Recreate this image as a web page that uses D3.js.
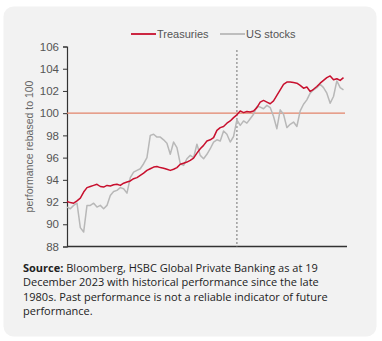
<!DOCTYPE html>
<html>
<head>
<meta charset="utf-8">
<script src="https://cdn.jsdelivr.net/npm/d3@7"></script>
<style>
  body { margin: 0; background: #fff; }
  svg { display: block; }
</style>
</head>
<body>
<svg id="chart" width="382" height="341"></svg>
<script>
// values, evenly spaced in time
var treasuries = [92.05, 91.95, 91.9, 92.1, 92.35, 92.9, 93.3, 93.4, 93.5, 93.6,
  93.4, 93.35, 93.5, 93.45, 93.55, 93.6, 93.5, 93.7, 93.8, 93.9,
  94.1, 94.2, 94.4, 94.6, 94.85, 95.0, 95.15, 95.2, 95.1, 95.05,
  94.95, 94.85, 94.95, 95.1, 95.4, 95.5, 95.6, 95.75, 95.95, 96.4,
  96.8, 97.1, 97.5, 97.6, 97.8, 98.45, 98.7, 98.8, 99.1, 99.3,
  99.6, 99.85, 100.2, 100.05, 100.15, 100.1, 100.2, 100.5, 101.0, 101.15,
  101.0, 100.85, 101.1, 101.6, 102.1, 102.6, 102.8, 102.8, 102.75, 102.7,
  102.5, 102.25, 102.35, 101.95, 102.15, 102.4, 102.7, 102.95, 103.2, 103.35,
  103.0, 103.1, 102.95, 103.2];

var usStocks = [91.55, 91.4, 91.7, 91.9, 89.7, 89.3, 91.7, 91.7, 91.9, 91.55,
  91.7, 91.4, 91.7, 92.6, 92.95, 93.05, 93.3, 93.2, 92.8, 94.2,
  94.7, 94.85, 95.0, 95.45, 96.0, 98.0, 98.1, 97.85, 97.85, 97.6,
  97.3, 96.3, 97.4, 96.9, 95.45, 95.3, 95.9, 96.2, 96.0, 97.2,
  96.2, 95.9, 96.3, 96.8, 97.4, 97.6, 97.5, 98.4, 98.1, 97.4,
  97.9, 99.4, 98.9, 99.3, 99.1, 99.5, 99.9, 100.6, 100.55, 100.4,
  100.7, 100.5, 99.7, 98.6, 100.3, 99.9, 98.7, 99.0, 99.2, 98.8,
  100.2, 100.8, 101.2, 101.8, 102.1, 102.3, 102.6, 102.3, 101.8, 100.9,
  101.5, 102.9, 102.3, 102.1];

var yTicks = [88, 90, 92, 94, 96, 98, 100, 102, 104, 106];
var seriesNames = ["Treasuries", "US stocks"];
var markerIndex = 51;   // dotted vertical line
var baseline = 100;

var sourceLines = [
  ["Source:", " Bloomberg, HSBC Global Private Banking as at 19"],
  ["", "December 2023 with historical performance since the late"],
  ["", "1980s. Past performance is not a reliable indicator of future"],
  ["", "performance."]
];

var svg = d3.select("#chart");

svg.append("rect")
  .attr("x", 3.5).attr("y", 6.5)
  .attr("width", 373).attr("height", 330)
  .attr("rx", 10)
  .attr("fill", "#f2f2f2");

var x = d3.scaleLinear().domain([0, treasuries.length - 1]).range([67, 343.5]);
var y = d3.scaleLinear().domain([88, 106]).range([246.5, 46.5]);

var yAxis = d3.axisLeft(y).tickValues(yTicks).tickSize(4).tickPadding(4);
var gy = svg.append("g").attr("transform", "translate(67,0)").call(yAxis);
gy.select(".domain").attr("stroke", "#333").attr("stroke-width", 1.2);
gy.selectAll(".tick line").attr("stroke", "#333");
gy.selectAll(".tick text")
  .attr("fill", "#555")
  .style("font-family", "Liberation Sans, Arial, sans-serif")
  .style("font-size", "11.5px");

svg.append("line")
  .attr("x1", 67).attr("x2", 347)
  .attr("y1", y(88)).attr("y2", y(88))
  .attr("stroke", "#333").attr("stroke-width", 1.5);

svg.append("text")
  .attr("transform", "translate(33," + y(97) + ") rotate(-90)")
  .attr("text-anchor", "middle")
  .attr("fill", "#666")
  .style("font-family", "Liberation Sans, Arial, sans-serif")
  .style("font-size", "10.5px")
  .text("performance rebased to 100");

svg.append("line")
  .attr("x1", 67).attr("x2", 345)
  .attr("y1", y(baseline)).attr("y2", y(baseline))
  .attr("stroke", "#e2836a").attr("stroke-width", 1.3);

svg.append("line")
  .attr("x1", x(markerIndex)).attr("x2", x(markerIndex))
  .attr("y1", 50).attr("y2", y(88))
  .attr("stroke", "#888").attr("stroke-width", 1.2)
  .attr("stroke-dasharray", "2,2");

var line = d3.line()
  .x(function(d, i) { return x(i); })
  .y(function(d) { return y(d); });

svg.append("path")
  .datum(usStocks)
  .attr("d", line)
  .attr("fill", "none")
  .attr("stroke", "#b8b8b8")
  .attr("stroke-width", 1.5)
  .attr("stroke-linejoin", "round");

svg.append("path")
  .datum(treasuries)
  .attr("d", line)
  .attr("fill", "none")
  .attr("stroke", "#c8102e")
  .attr("stroke-width", 1.5)
  .attr("stroke-linejoin", "round");

// legend
var legendColors = ["#c8102e", "#b8b8b8"];
var legendX = [131, 220];
seriesNames.forEach(function(name, i) {
  svg.append("line")
    .attr("x1", legendX[i]).attr("x2", legendX[i] + 25)
    .attr("y1", 34).attr("y2", 34)
    .attr("stroke", legendColors[i]).attr("stroke-width", 1.8);
  svg.append("text")
    .attr("x", legendX[i] + 26).attr("y", 38)
    .attr("fill", "#555")
    .style("font-family", "Liberation Sans, Arial, sans-serif")
    .style("font-size", "11px")
    .text(name);
});

// source note
var note = svg.append("text")
  .attr("fill", "#222")
  .style("font-family", "Open Sans, sans-serif")
  .style("font-size", "11px");
sourceLines.forEach(function(l, i) {
  var t = note.append("tspan").attr("x", 23).attr("y", 272 + i * 14.4);
  if (l[0]) t.append("tspan").attr("font-weight", "bold").text(l[0]);
  t.append("tspan").text(l[1]);
});
</script>
</body>
</html>
